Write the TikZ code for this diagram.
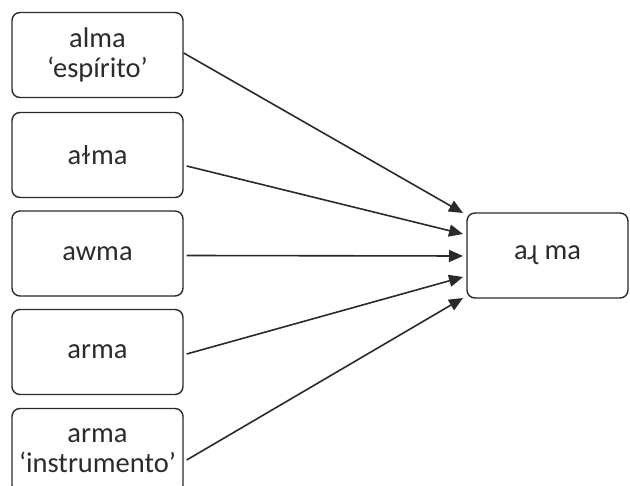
\documentclass[tikz,border=0pt]{standalone}
\usepackage{fontspec}
\setmainfont{Carlito}
\newfontfamily\ipafont{DejaVu Sans}
\usetikzlibrary{arrows.meta}
\definecolor{txt}{HTML}{2B2B2B}
\definecolor{edge}{HTML}{2A2A2A}
\begin{document}
\begin{tikzpicture}[x=1pt,y=-1pt,
  wbox/.style={draw=edge,line width=1.4pt,rounded corners=8pt,minimum width=171pt,minimum height=85pt,
    inner sep=0pt,align=center,text=txt,font=\fontsize{28.5}{30}\selectfont},
  conn/.style={draw=edge,line width=1.6pt,-{Triangle[length=14pt,width=12pt]}}]
\useasboundingbox (0,0) rectangle (630,486);
\clip (0,0) rectangle (630,486);
\fill[white] (0,0) rectangle (630,486);
\node[wbox] (b1) at (97.5,55) {alma\\‘espírito’};
\node[wbox] (b2) at (97.5,155) {a{\ipafont\fontsize{25}{30}\selectfont ɫ}ma};
\node[wbox] (b3) at (97.5,253.5) {awma};
\node[wbox] (b4) at (97.5,352) {arma};
\node[wbox] (b5) at (97.5,451) {arma\\‘instrumento’};
\node[wbox,minimum width=161pt] (t) at (547.5,255.5) {a{\ipafont\fontsize{25}{30}\selectfont ɻ} ma};
\coordinate (e1) at (463,213);
\coordinate (e2) at (463,234);
\coordinate (e3) at (463,256);
\coordinate (e4) at (463,277);
\coordinate (e5) at (463,298);
\draw[conn] ([yshift=2pt]b1.east) -- (e1);
\draw[conn] ([xshift=3pt,yshift=-11pt]b2.east) -- (e2);
\draw[conn] ([xshift=3pt,yshift=-2pt]b3.east) -- (e3);
\draw[conn] ([xshift=3pt,yshift=-2pt]b4.east) -- (e4);
\draw[conn] ([xshift=3pt,yshift=-9pt]b5.east) -- (e5);
\end{tikzpicture}
\end{document}
